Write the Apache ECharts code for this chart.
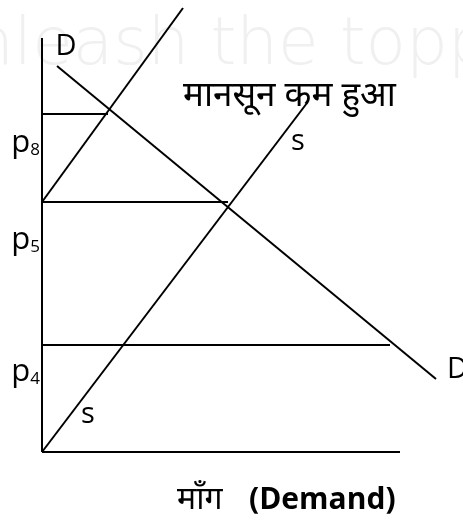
<!DOCTYPE html>
<html>
<head>
<meta charset="utf-8">
<script src="https://cdn.jsdelivr.net/npm/echarts@6/dist/echarts.min.js"></script>
<style>
    html, body { margin: 0; padding: 0; background: #fff; }
    #chart { width: 463px; height: 524px; }
</style>
</head>
<body>
<div id="chart"></div>
<script>
// quantity (x) and price (y) in chart units, origin at 0,0
const axisY = [[0, 0], [0, 103.5]];
const axisX = [[0, 0], [89.5, 0]];
const demandD = [[3.75, 96.5], [98.5, 18.25]];
const supplyS = [[0, 0], [66.25, 87.25]];
const supplyNew = [[0, 62.5], [35.25, 111]];
const priceLines = [
    [[0, 84.5], [16.5, 84.5]],
    [[0, 62.5], [46.5, 62.5]],
    [[0, 26.75], [87, 26.75]]
];
const priceSubs = ['8', '5', '4'];
const priceAt = [77.25, 53, 20];
const curveLabels = [
    { text: 'D', at: [6, 101.25], align: 'center' },
    { text: 'D', at: [101.25, 20.5], align: 'left' },
    { text: 's', at: [11.5, 9.25], align: 'center' },
    { text: 's', at: [64, 77.5], align: 'center' }
];

const chart = echarts.init(document.getElementById('chart'));

const lineStyle = { color: '#000', width: 2 };

function seg(name, data) {
    return {
        name: name,
        type: 'line',
        data: data,
        symbol: 'none',
        clip: false,
        silent: true,
        lineStyle: lineStyle
    };
}

const series = [
    seg('yaxis', axisY),
    seg('xaxis', axisX),
    seg('D', demandD),
    seg('S', supplyS),
    seg('S2', supplyNew)
];
priceLines.forEach((p, i) => series.push(seg('p' + i, p)));

series.push({
    type: 'scatter',
    symbolSize: 0,
    silent: true,
    clip: false,
    itemStyle: { opacity: 1 },
    data: priceAt.map((v, i) => ({ value: [-0.5, v], sub: priceSubs[i] })),
    label: {
        show: true,
        opacity: 1,
        position: 'inside',
        align: 'right',
        verticalAlign: 'middle',
        formatter: (p) => '{p|p}{s|' + p.data.sub + '}',
        rich: {
            p: { fontFamily: 'Open Sans', fontSize: 31, color: '#000', verticalAlign: 'bottom' },
            s: { fontFamily: 'Open Sans', fontSize: 17, color: '#000', verticalAlign: 'bottom' }
        }
    }
});

series.push({
    type: 'scatter',
    symbolSize: 0,
    silent: true,
    clip: false,
    itemStyle: { opacity: 1 },
    data: curveLabels.map(l => ({
        value: l.at,
        label: { formatter: l.text, align: l.align }
    })),
    label: {
        show: true,
        opacity: 1,
        position: 'inside',
        verticalAlign: 'middle',
        fontFamily: 'Open Sans',
        fontSize: 29,
        color: '#000'
    }
});

chart.setOption({
    animation: false,
    grid: { left: 42, top: 4, width: 400, height: 448, outerBoundsMode: 'none' },
    xAxis: { type: 'value', min: 0, max: 100, show: false },
    yAxis: { type: 'value', min: 0, max: 112, show: false },
    graphic: [
        {
            type: 'text', left: -28, top: 14, z: -10,
            style: { text: 'nleash the toppers', fontFamily: 'DejaVu Sans', fontWeight: 200, fontSize: 66, fill: '#f0f0f0' }
        },
        {
            type: 'text', left: 183, top: 79,
            style: { text: 'मानसून कम हुआ', fontFamily: 'Noto Sans', fontSize: 35, fill: '#000' }
        },
        {
            type: 'text', left: 177, top: 484,
            style: { text: 'माँग', fontFamily: 'Noto Sans', fontSize: 32, fill: '#000' }
        },
        {
            type: 'text', left: 249, top: 485,
            style: { text: '(Demand)', fontFamily: 'Open Sans', fontWeight: 'bold', fontSize: 30, fill: '#000' }
        }
    ],
    series: series
});
</script>
</body>
</html>
